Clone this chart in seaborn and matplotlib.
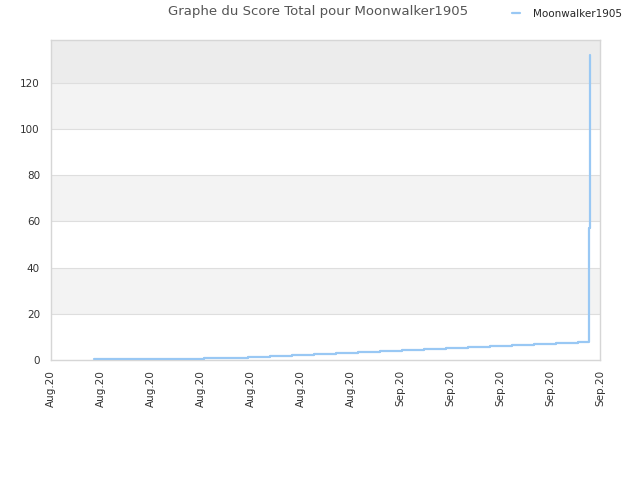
import matplotlib
matplotlib.use("Agg")
import matplotlib.pyplot as plt
import seaborn as sns
import pandas as pd

# --- Data ---
# x in days from the first tick, y = total score
days = [4.3, 15.33, 17.54, 19.74, 21.94, 24.15, 26.35, 28.56, 30.76, 32.97,
        35.17, 37.37, 39.58, 41.78, 43.99, 46.19, 48.40, 50.60, 52.81,
        53.91, 54.01]
scores = [0.25, 0.65, 1.05, 1.45, 1.88, 2.3, 2.72, 3.18, 3.6, 4.0,
          4.35, 4.8, 5.2, 5.6, 6.1, 6.5, 6.9, 7.4, 7.8,
          57, 132]
player = "Moonwalker1905"
tick_days = [0, 5, 10, 15, 20, 25, 30, 35, 40, 45, 50, 55]
tick_labels = ["Aug.20"] * 7 + ["Sep.20"] * 5

df = pd.DataFrame({"day": days, "score": scores})

sns.set_style("white")
plt.rcParams["font.family"] = ["DejaVu Sans"]

fig = plt.figure(figsize=(6.4, 4.8), dpi=100)
ax = fig.add_axes([51 / 640, 120 / 480, 549 / 640, 320 / 480])

# alternating background bands
y_top = 138.6
for lo, hi, c in [(20, 40, "#f3f3f3"), (60, 80, "#f3f3f3"),
                  (100, 120, "#f3f3f3"), (120, y_top, "#ececec")]:
    ax.axhspan(lo, hi, color=c, zorder=0, lw=0)
for yv in [20, 40, 60, 80, 100, 120]:
    ax.axhline(yv, color="#dedede", lw=0.8, zorder=1)

sns.lineplot(data=df, x="day", y="score", ax=ax, color="#99c8f4",
             linewidth=1.6, drawstyle="steps-post", label=player, zorder=3)

ax.set_xlim(0, 55)
ax.set_ylim(0, y_top)
ax.set_xticks(tick_days)
ax.set_xticklabels(tick_labels, rotation=90, fontsize=7.5, color="#333333")
ax.set_yticks([0, 20, 40, 60, 80, 100, 120])
ax.tick_params(axis="y", labelsize=7.5, colors="#333333", length=0, pad=8)
ax.tick_params(axis="x", length=0, pad=7)
ax.set_xlabel("")
ax.set_ylabel("")
for s in ax.spines.values():
    s.set_color("#d6d6d6")
    s.set_linewidth(1)

fig.text(318 / 640, 1 - 12 / 480, "Graphe du Score Total pour " + player,
         ha="center", va="center", fontsize=9.5, color="#555555")

leg = ax.legend(loc="upper right", bbox_to_anchor=(626 / 549 - 51 / 549, 1.11),
                frameon=False, fontsize=7.5, handlelength=0.8,
                handletextpad=1.2, borderaxespad=0)
for line in leg.get_lines():
    line.set_linewidth(1.6)

fig.savefig("out.png", dpi=100)
